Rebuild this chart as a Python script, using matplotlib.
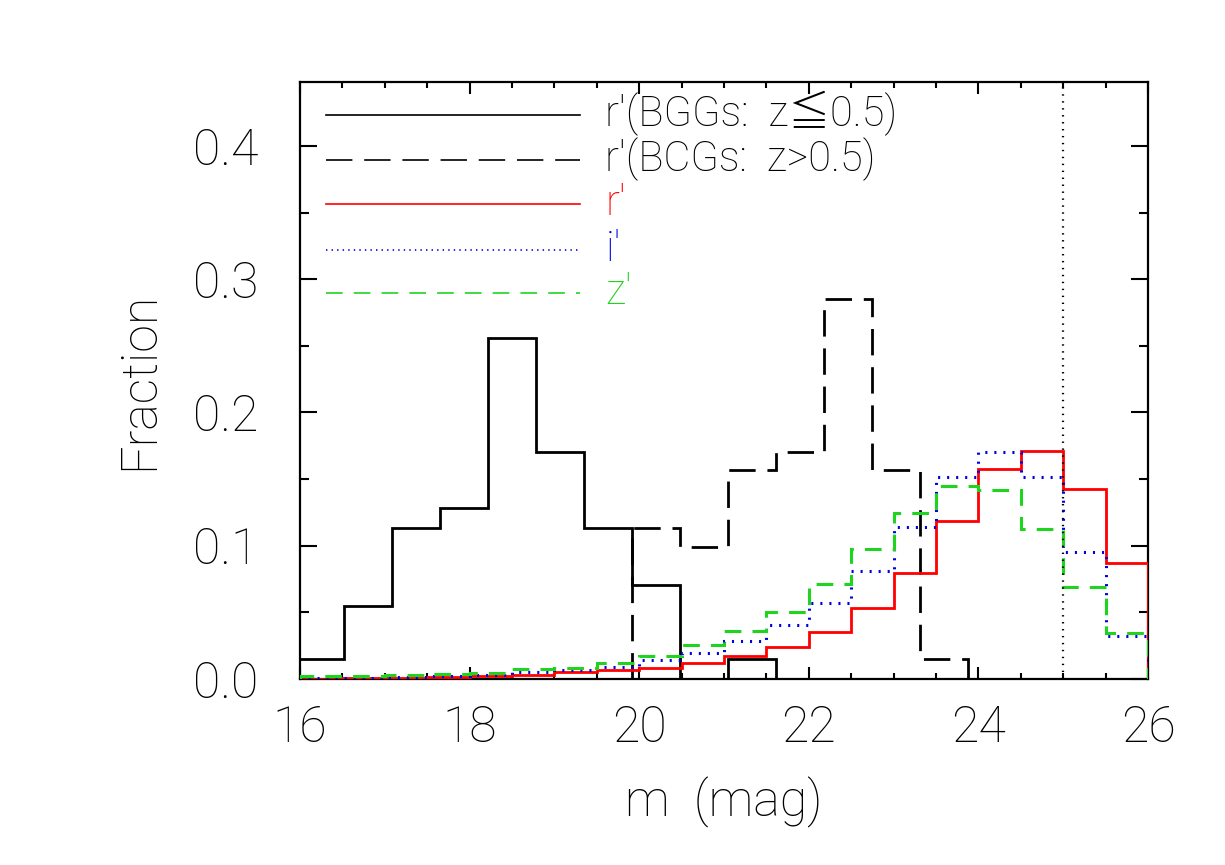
import matplotlib
matplotlib.use("Agg")
import matplotlib.pyplot as plt
from matplotlib.ticker import MultipleLocator, FormatStrFormatter

# ---------------- data ----------------
# BGG r' (z<=0.5) histogram
bgg_edges = [15.948, 16.514, 17.080, 17.646, 18.212, 18.778, 19.344, 19.910, 20.476, 21.042, 21.608]
bgg_frac = [0.0148, 0.0545, 0.1135, 0.1280, 0.2556, 0.1705, 0.1135, 0.0705, 0.0, 0.0148]

# BCG r' (z>0.5) histogram
bcg_edges = [19.910, 20.476, 21.042, 21.608, 22.174, 22.740, 23.306, 23.872]
bcg_frac = [0.1135, 0.0993, 0.1568, 0.1705, 0.2850, 0.1568, 0.0148]

# field galaxies histograms, 0.5 mag bins
mag_edges = [16.0, 16.5, 17.0, 17.5, 18.0, 18.5, 19.0, 19.5, 20.0, 20.5, 21.0,
             21.5, 22.0, 22.5, 23.0, 23.5, 24.0, 24.5, 25.0, 25.5, 26.0]
r_frac = [0.0, 0.0005, 0.001, 0.0015, 0.002, 0.003, 0.005, 0.0068, 0.0085, 0.0123,
          0.0174, 0.0243, 0.035, 0.053, 0.0798, 0.1188, 0.1573, 0.1713, 0.1423, 0.0868]
i_frac = [0.001, 0.001, 0.0015, 0.002, 0.003, 0.0055, 0.0068, 0.009, 0.014, 0.0193,
          0.0284, 0.0408, 0.0573, 0.0813, 0.1143, 0.1518, 0.1705, 0.1518, 0.0955, 0.0323]
z_frac = [0.002, 0.002, 0.003, 0.004, 0.0048, 0.0075, 0.0085, 0.0123, 0.0175, 0.0255,
          0.036, 0.0505, 0.0713, 0.0973, 0.1243, 0.1448, 0.1418, 0.1123, 0.0693, 0.0348]

mag_limit = 25.0

legend_labels = ["r\u2032(BGGs:  z\u22660.5)", "r\u2032(BCGs:  z>0.5)", "r\u2032", "i\u2032", "z\u2032"]

# ---------------- style ----------------
FAMILY = ["Roboto", "Noto Sans CJK JP", "DejaVu Sans"]
plt.rcParams["font.family"] = FAMILY
plt.rcParams["font.weight"] = "light"
plt.rcParams["lines.scale_dashes"] = False

RED = "#ff0000"
BLUE = "#0000e0"
GREEN = "#1fd41f"

fig = plt.figure(figsize=(12.25, 8.65), dpi=100)
ax = fig.add_axes([300 / 1225, 1 - 679 / 865, 848 / 1225, 597 / 865])

dash_black = (0, (19, 8.5))
dash_green = (0, (12, 8))
dot_blue = (0, (1.5, 5))

ax.stairs(bgg_frac, bgg_edges, baseline=0.0, color="black", lw=2.0, zorder=3)
ax.stairs(bcg_frac, bcg_edges, baseline=0.0, color="black", lw=2.0, linestyle=dash_black, zorder=3)
ax.stairs(r_frac, mag_edges, baseline=0.0, color=RED, lw=2.0, zorder=4)
ax.stairs(i_frac, mag_edges, baseline=0.0, color=BLUE, lw=2.2, linestyle=dot_blue, zorder=5)
ax.stairs(z_frac, mag_edges, baseline=0.0, color=GREEN, lw=2.2, linestyle=dash_green, zorder=6)
ax.axvline(mag_limit, color="black", lw=1.6, linestyle=(0, (1, 4)), zorder=7)

ax.set_xlim(16, 26)
ax.set_ylim(0, 0.448)

ax.xaxis.set_major_locator(MultipleLocator(2))
ax.xaxis.set_minor_locator(MultipleLocator(0.5))
ax.yaxis.set_major_locator(MultipleLocator(0.1))
ax.yaxis.set_minor_locator(MultipleLocator(0.05))
ax.yaxis.set_major_formatter(FormatStrFormatter("%.1f"))

ax.tick_params(axis="both", which="both", direction="in", top=True, right=True, width=1.5,
               colors="black", labelsize=36)
ax.tick_params(axis="x", which="major", length=8.6, pad=18)
ax.tick_params(axis="x", which="minor", length=4.5)
ax.tick_params(axis="y", which="major", length=12.2, pad=30)
ax.tick_params(axis="y", which="minor", length=6.5)
for lbl in ax.get_xticklabels() + ax.get_yticklabels():
    lbl.set_fontweight("light")
    lbl.set_family(FAMILY)
for sp in ax.spines.values():
    sp.set_linewidth(1.6)

ax.set_xlabel("m  (mag)", fontsize=36, fontweight="light")
ax.set_ylabel("Fraction", fontsize=36, fontweight="light")
ax.xaxis.set_label_coords(0.5, -0.207)
ax.xaxis.label.set_va("center")
ax.yaxis.set_label_coords(-0.189, 0.5)
ax.yaxis.label.set_va("center")

# manual legend
legend_styles = [
    dict(color="black", linestyle="-"),
    dict(color="black", linestyle=(0, (19, 8.5))),
    dict(color=RED, linestyle="-"),
    dict(color=BLUE, linestyle=(0, (1, 3))),
    dict(color=GREEN, linestyle=(0, (12, 8))),
]
legend_text_colors = ["black", "black", RED, BLUE, GREEN]
row_y = [0.9447, 0.8693, 0.7951, 0.7186, 0.6471]
for lab, st, tc, yy in zip(legend_labels, legend_styles, legend_text_colors, row_y):
    ax.plot([0.0303, 0.330], [yy, yy], transform=ax.transAxes, lw=1.2, **st)
    ax.text(0.360, yy - 0.0184, lab, transform=ax.transAxes, color=tc, fontsize=30,
            fontweight="light", family=FAMILY, ha="left", va="baseline")

fig.savefig("out.png", dpi=100)
